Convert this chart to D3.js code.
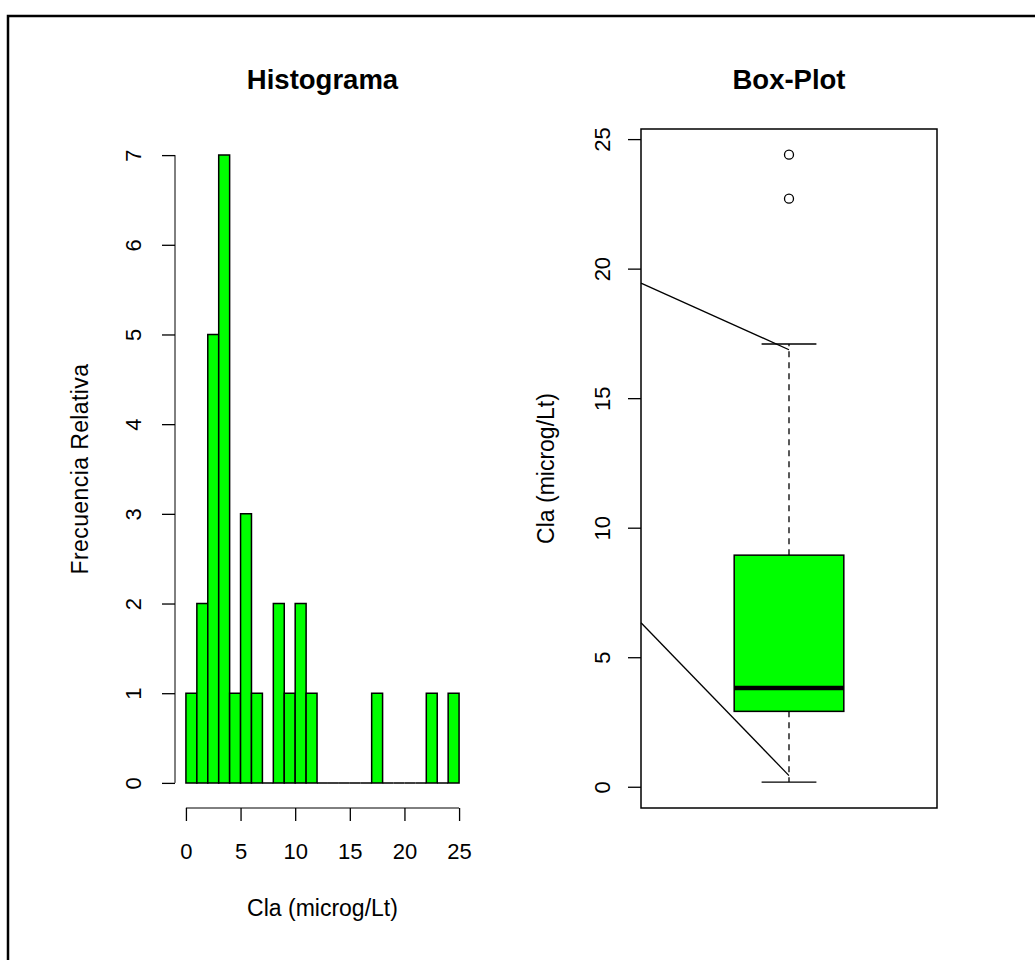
<!DOCTYPE html>
<html>
<head>
<meta charset="utf-8">
<script src="https://cdn.jsdelivr.net/npm/d3@7"></script>
<style>
  body { margin: 0; background: #fff; }
  svg { display: block; font-family: "Liberation Sans", Arial, sans-serif; }
</style>
</head>
<body>
<svg id="chart"></svg>
<script>
// histogram: bin edges and counts
var binStarts = [0, 1, 2, 3, 4, 5, 6, 7, 8, 9, 10, 11, 12, 13, 14, 15, 16, 17, 18, 19, 20, 21, 22, 23, 24];
var binEnds   = [1, 2, 3, 4, 5, 6, 7, 8, 9, 10, 11, 12, 13, 14, 15, 16, 17, 18, 19, 20, 21, 22, 23, 24, 25];
var binCounts = [1, 2, 5, 7, 1, 3, 1, 0, 2, 1, 2, 1, 0, 0, 0, 0, 0, 1, 0, 0, 0, 0, 1, 0, 1];
var histXTicks = [0, 5, 10, 15, 20, 25];
var histYTicks = [0, 1, 2, 3, 4, 5, 6, 7];

// box-plot: whisker low, Q1, median, Q3, whisker high
var boxStats = [0.18, 2.91, 3.81, 8.94, 17.09];
var outliers = [22.7, 24.4];
var boxYTicks = [0, 5, 10, 15, 20, 25];
// the two stray lines crossing the box panel (x in box units, y in data units)
var strayX0 = [0.46, 0.46];
var strayY0 = [19.44, 6.33];
var strayX1 = [1.0, 1.0];
var strayY1 = [16.87, 0.43];

var W = 1035, H = 960;
var green = "#00ff00";
var tickFont = 22, labelFont = 23, titleFont = 27.5;

var svg = d3.select("#chart").attr("width", W).attr("height", H);

// outer frame (right/bottom edges fall outside the picture)
svg.append("path")
    .attr("d", "M8," + H + "V16H" + W)
    .attr("fill", "none")
    .attr("stroke", "#000")
    .attr("stroke-width", 2.5);

// ---------- Histogram ----------
var hx = d3.scaleLinear().domain([-1, 26]).range([175, 470]);
var hy = d3.scaleLinear().domain([-0.28, 7.28]).range([808, 130]);

var hist = svg.append("g");

// bars as paths so empty bins still show their baseline
hist.selectAll("path.bar")
    .data(binCounts)
    .enter().append("path")
    .attr("class", "bar")
    .attr("d", function(d, i) {
      var x0 = hx(binStarts[i]), x1 = hx(binEnds[i]);
      return "M" + x0 + "," + hy(0) + "V" + hy(d) + "H" + x1 + "V" + hy(0) + "Z";
    })
    .attr("fill", green)
    .attr("stroke", "#000")
    .attr("stroke-width", 1.5);

// y axis
var hyAxis = hist.append("g")
    .attr("transform", "translate(" + hx(-1) + ",0)")
    .call(d3.axisLeft(hy).tickValues(histYTicks).tickSize(13).tickSizeOuter(0));
hyAxis.select(".domain").remove();
hyAxis.append("line")
    .attr("y1", hy(0)).attr("y2", hy(7))
    .attr("stroke", "#000");
hyAxis.selectAll(".tick line").attr("stroke-width", 1.3);
hyAxis.selectAll(".tick text")
    .attr("x", 0).attr("dy", null)
    .attr("y", -34)
    .attr("transform", "rotate(-90)")
    .style("text-anchor", "middle")
    .style("font-size", tickFont + "px")
    .style("font-family", "Liberation Sans, Arial, sans-serif")
    .attr("fill", "#000");

// x axis
var hxAxis = hist.append("g")
    .attr("transform", "translate(0," + hy(-0.28) + ")")
    .call(d3.axisBottom(hx).tickValues(histXTicks).tickSize(13).tickSizeOuter(0));
hxAxis.select(".domain").remove();
hxAxis.append("line")
    .attr("x1", hx(0)).attr("x2", hx(25))
    .attr("stroke", "#000");
hxAxis.selectAll(".tick line").attr("stroke-width", 1.3);
hxAxis.selectAll(".tick text")
    .attr("dy", null)
    .attr("y", 51)
    .style("font-size", tickFont + "px")
    .style("font-family", "Liberation Sans, Arial, sans-serif")
    .attr("fill", "#000");

hist.append("text")
    .attr("x", (hx(-1) + hx(26)) / 2).attr("y", 89)
    .attr("text-anchor", "middle")
    .style("font-size", titleFont + "px")
    .style("font-weight", "bold")
    .text("Histograma");

hist.append("text")
    .attr("x", (hx(-1) + hx(26)) / 2).attr("y", 916)
    .attr("text-anchor", "middle")
    .style("font-size", labelFont + "px")
    .text("Cla (microg/Lt)");

hist.append("text")
    .attr("transform", "translate(88," + (hy(-0.28) + hy(7.28)) / 2 + ") rotate(-90)")
    .attr("text-anchor", "middle")
    .style("font-size", labelFont + "px")
    .style("letter-spacing", "0.4px")
    .text("Frecuencia Relativa");

// ---------- Box-Plot ----------
var bx = d3.scaleLinear().domain([0.46, 1.54]).range([641, 937]);
var by = d3.scaleLinear().domain([-0.82, 25.39]).range([808, 129]);

var box = svg.append("g");

// dashed whiskers
box.selectAll("line.whisker")
    .data([[boxStats[3], boxStats[4]], [boxStats[1], boxStats[0]]])
    .enter().append("line")
    .attr("class", "whisker")
    .attr("x1", bx(1)).attr("x2", bx(1))
    .attr("y1", function(d) { return by(d[0]); })
    .attr("y2", function(d) { return by(d[1]); })
    .attr("stroke", "#000")
    .attr("stroke-width", 1.3)
    .attr("stroke-dasharray", "6,5");

// whisker caps
box.selectAll("line.cap")
    .data([boxStats[0], boxStats[4]])
    .enter().append("line")
    .attr("class", "cap")
    .attr("x1", bx(0.9)).attr("x2", bx(1.1))
    .attr("y1", function(d) { return by(d); })
    .attr("y2", function(d) { return by(d); })
    .attr("stroke", "#000")
    .attr("stroke-width", 1.3);

// box
box.append("rect")
    .attr("x", bx(0.8))
    .attr("width", bx(1.2) - bx(0.8))
    .attr("y", by(boxStats[3]))
    .attr("height", by(boxStats[1]) - by(boxStats[3]))
    .attr("fill", green)
    .attr("stroke", "#000")
    .attr("stroke-width", 1.5);

// median
box.append("line")
    .attr("x1", bx(0.8)).attr("x2", bx(1.2))
    .attr("y1", by(boxStats[2])).attr("y2", by(boxStats[2]))
    .attr("stroke", "#000")
    .attr("stroke-width", 4.5);

// outliers
box.selectAll("circle.out")
    .data(outliers)
    .enter().append("circle")
    .attr("class", "out")
    .attr("cx", bx(1))
    .attr("cy", function(d) { return by(d); })
    .attr("r", 4.5)
    .attr("fill", "none")
    .attr("stroke", "#000")
    .attr("stroke-width", 1.3);

// stray lines
box.selectAll("line.stray")
    .data(strayX0)
    .enter().append("line")
    .attr("class", "stray")
    .attr("x1", function(d, i) { return bx(strayX0[i]); })
    .attr("y1", function(d, i) { return by(strayY0[i]); })
    .attr("x2", function(d, i) { return bx(strayX1[i]); })
    .attr("y2", function(d, i) { return by(strayY1[i]); })
    .attr("stroke", "#000")
    .attr("stroke-width", 1.3);

// frame
box.append("rect")
    .attr("x", bx(0.46)).attr("y", by(25.39))
    .attr("width", bx(1.54) - bx(0.46))
    .attr("height", by(-0.82) - by(25.39))
    .attr("fill", "none")
    .attr("stroke", "#000")
    .attr("stroke-width", 1.5);

// y axis
var byAxis = box.append("g")
    .attr("transform", "translate(" + bx(0.46) + ",0)")
    .call(d3.axisLeft(by).tickValues(boxYTicks).tickSize(13).tickSizeOuter(0));
byAxis.select(".domain").remove();
byAxis.selectAll(".tick line").attr("stroke-width", 1.3);
byAxis.selectAll(".tick text")
    .attr("x", 0).attr("dy", null)
    .attr("y", -31)
    .attr("transform", "rotate(-90)")
    .style("text-anchor", "middle")
    .style("font-size", tickFont + "px")
    .style("font-family", "Liberation Sans, Arial, sans-serif")
    .attr("fill", "#000");

box.append("text")
    .attr("x", (bx(0.46) + bx(1.54)) / 2).attr("y", 89)
    .attr("text-anchor", "middle")
    .style("font-size", titleFont + "px")
    .style("font-weight", "bold")
    .text("Box-Plot");

box.append("text")
    .attr("transform", "translate(554," + (by(-0.82) + by(25.39)) / 2 + ") rotate(-90)")
    .attr("text-anchor", "middle")
    .style("font-size", labelFont + "px")
    .text("Cla (microg/Lt)");
</script>
</body>
</html>
